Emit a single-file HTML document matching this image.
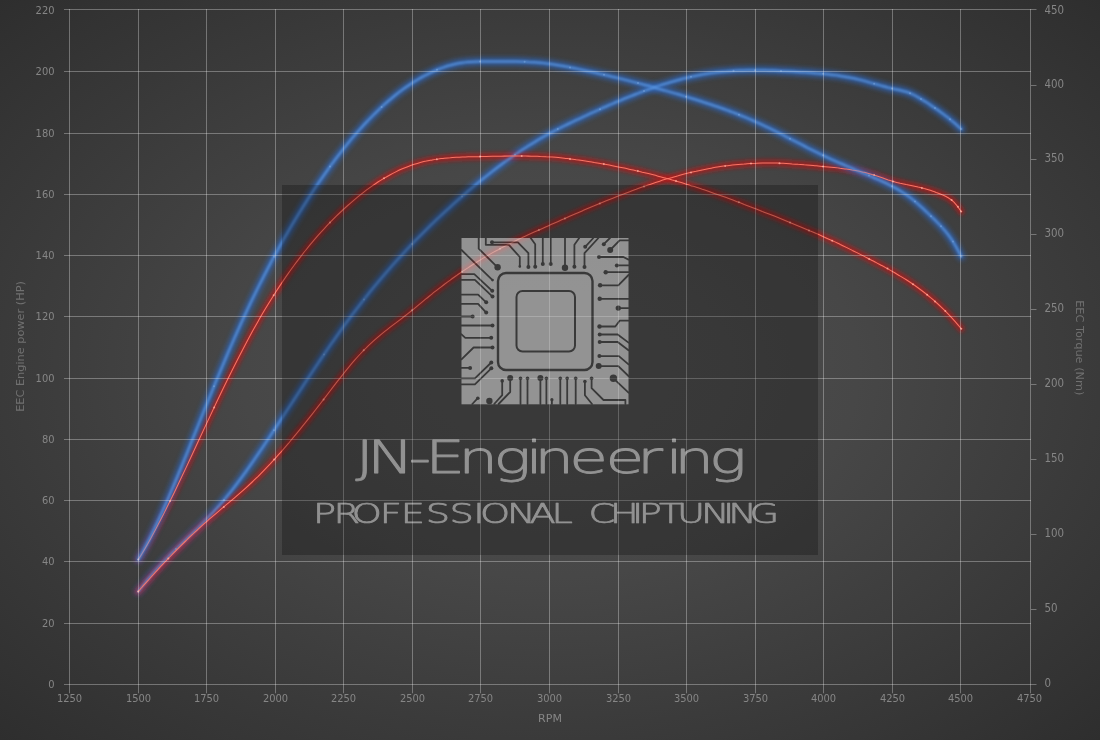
<!DOCTYPE html>
<html lang="en"><head><meta charset="utf-8"><title>JN-Engineering Professional Chiptuning - Dyno chart</title>
<style>html,body{margin:0;padding:0;background:#333;overflow:hidden}svg{display:block}text{font-family:"DejaVu Sans Condensed","DejaVu Sans","Liberation Sans",sans-serif}text.ti{font-family:"DejaVu Sans","Liberation Sans",sans-serif}text.wm{font-family:"DejaVu Sans Light","DejaVu Sans","Liberation Sans",sans-serif;font-weight:200}</style></head><body>
<svg width="1100" height="740" viewBox="0 0 1100 740">
<defs>
<radialGradient id="bg" cx="0.5" cy="0.5" r="0.75"><stop offset="0" stop-color="#4e4e4e"/><stop offset="0.22" stop-color="#4b4b4b"/><stop offset="0.373" stop-color="#474747"/><stop offset="0.487" stop-color="#424242"/><stop offset="0.667" stop-color="#3a3a3a"/><stop offset="0.943" stop-color="#2e2e2e"/><stop offset="1" stop-color="#2b2b2b"/></radialGradient>
<filter id="gb" x="-5%" y="-5%" width="110%" height="110%"><feGaussianBlur stdDeviation="2.6"/></filter>
<filter id="gr" x="-5%" y="-5%" width="110%" height="110%"><feGaussianBlur stdDeviation="2.3"/></filter>
<filter id="cb" x="-5%" y="-5%" width="110%" height="110%"><feGaussianBlur stdDeviation="0.85"/></filter>
<filter id="cr" x="-5%" y="-5%" width="110%" height="110%"><feGaussianBlur stdDeviation="0.4"/></filter>
</defs>
<rect width="1100" height="740" fill="url(#bg)"/>
<g font-size="11" fill="#868686">
<g text-anchor="end">
<text x="54.5" y="688.0">0</text>
<text x="54.5" y="627.0">20</text>
<text x="54.5" y="565.0">40</text>
<text x="54.5" y="504.0">60</text>
<text x="54.5" y="443.0">80</text>
<text x="54.5" y="382.0">100</text>
<text x="54.5" y="320.0">120</text>
<text x="54.5" y="259.0">140</text>
<text x="54.5" y="198.0">160</text>
<text x="54.5" y="137.0">180</text>
<text x="54.5" y="75.0">200</text>
<text x="54.5" y="13.6">220</text>
</g><g text-anchor="start">
<text x="1044.5" y="687.1" font-size="11.4">0</text>
<text x="1044.5" y="612.1" font-size="11.4">50</text>
<text x="1044.5" y="537.1" font-size="11.4">100</text>
<text x="1044.5" y="462.1" font-size="11.4">150</text>
<text x="1044.5" y="387.1" font-size="11.4">200</text>
<text x="1044.5" y="312.1" font-size="11.4">250</text>
<text x="1044.5" y="237.1" font-size="11.4">300</text>
<text x="1044.5" y="162.1" font-size="11.4">350</text>
<text x="1044.5" y="88.1" font-size="11.4">400</text>
<text x="1044.5" y="13.9" font-size="11.4">450</text>
</g><g text-anchor="middle">
<text x="69.5" y="702">1250</text>
<text x="138.5" y="702">1500</text>
<text x="206.5" y="702">1750</text>
<text x="275.5" y="702">2000</text>
<text x="343.5" y="702">2250</text>
<text x="412.5" y="702">2500</text>
<text x="480.5" y="702">2750</text>
<text x="549.5" y="702">3000</text>
<text x="618.5" y="702">3250</text>
<text x="686.5" y="702">3500</text>
<text x="755.5" y="702">3750</text>
<text x="823.5" y="702">4000</text>
<text x="892.5" y="702">4250</text>
<text x="960.5" y="702">4500</text>
<text x="1029.5" y="702">4750</text>
<text class="ti" x="550" y="722">RPM</text>
</g>
<g text-anchor="middle" fill="#707070" font-size="11.3">
<text class="ti" transform="translate(23.7 346.5) rotate(-90)">EEC Engine power (HP)</text>
<text class="ti" transform="translate(1075.7 347.8) rotate(90)">EEC Torque (Nm)</text>
</g></g>
<defs>
<path id="bp" d="M138.2 591.6C139.2 590.3 142.2 586.3 144.2 583.8C146.2 581.3 148.2 578.9 150.2 576.5C152.2 574.1 154.2 571.8 156.2 569.6C158.2 567.4 160.2 565.2 162.2 563.1C164.2 561.0 166.2 558.9 168.2 556.9C170.2 554.8 172.2 552.8 174.2 550.8C176.2 548.9 178.2 546.9 180.2 545.0C182.2 543.0 184.2 541.1 186.2 539.2C188.2 537.3 190.2 535.3 192.2 533.4C194.2 531.5 196.2 529.5 198.2 527.6C200.2 525.6 202.2 523.6 204.2 521.6C206.2 519.6 208.2 517.5 210.2 515.4C212.2 513.3 214.2 511.2 216.2 508.9C218.2 506.7 220.2 504.5 222.2 502.1C224.2 499.8 226.2 497.4 228.2 494.9C230.2 492.5 232.2 489.9 234.2 487.3C236.2 484.7 238.2 482.1 240.2 479.4C242.2 476.7 244.2 473.9 246.2 471.1C248.2 468.3 250.2 465.5 252.2 462.6C254.2 459.7 256.2 456.8 258.2 453.9C260.2 450.9 262.2 448.0 264.2 445.0C266.2 442.0 268.2 439.0 270.2 436.0C272.2 432.9 274.2 429.9 276.2 426.9C278.2 423.8 280.2 420.8 282.2 417.7C284.2 414.7 286.2 411.6 288.2 408.5C290.2 405.5 292.2 402.4 294.2 399.4C296.2 396.3 298.2 393.2 300.2 390.2C302.2 387.1 304.2 384.1 306.2 381.0C308.2 378.0 310.2 375.0 312.2 372.0C314.2 369.0 316.2 366.0 318.2 363.0C320.2 360.0 322.2 357.0 324.2 354.1C326.2 351.2 328.2 348.2 330.2 345.3C332.2 342.5 334.2 339.6 336.2 336.8C338.2 333.9 340.2 331.1 342.2 328.3C344.2 325.6 346.2 322.8 348.2 320.1C350.2 317.4 352.2 314.7 354.2 312.1C356.2 309.4 358.2 306.8 360.2 304.3C362.2 301.7 364.2 299.1 366.2 296.6C368.2 294.1 370.2 291.6 372.2 289.2C374.2 286.7 376.2 284.3 378.2 281.9C380.2 279.5 382.2 277.2 384.2 274.8C386.2 272.5 388.2 270.2 390.2 267.9C392.2 265.6 394.2 263.4 396.2 261.2C398.2 258.9 400.2 256.7 402.2 254.6C404.2 252.4 406.2 250.2 408.2 248.1C410.2 246.0 412.2 243.9 414.2 241.8C416.2 239.8 418.2 237.7 420.2 235.7C422.2 233.7 424.2 231.7 426.2 229.7C428.2 227.7 430.2 225.7 432.2 223.8C434.2 221.9 436.2 219.9 438.2 218.1C440.2 216.2 442.2 214.3 444.2 212.4C446.2 210.6 448.2 208.7 450.2 206.9C452.2 205.1 454.2 203.3 456.2 201.5C458.2 199.8 460.2 198.0 462.2 196.2C464.2 194.5 466.2 192.8 468.2 191.1C470.2 189.4 472.2 187.7 474.2 186.0C476.2 184.3 478.2 182.7 480.2 181.0C482.2 179.4 484.2 177.8 486.2 176.2C488.2 174.6 490.2 173.0 492.2 171.5C494.2 169.9 496.2 168.4 498.2 166.9C500.2 165.4 502.2 163.9 504.2 162.4C506.2 161.0 508.2 159.5 510.2 158.1C512.2 156.7 514.2 155.3 516.2 153.9C518.2 152.6 520.2 151.2 522.2 149.9C524.2 148.6 526.2 147.3 528.2 146.0C530.2 144.7 532.2 143.5 534.2 142.3C536.2 141.0 538.2 139.8 540.2 138.7C542.2 137.5 544.2 136.3 546.2 135.2C548.2 134.1 550.2 133.0 552.2 132.0C554.2 130.9 556.2 129.9 558.2 128.8C560.2 127.8 562.2 126.8 564.2 125.9C566.2 124.9 568.2 123.9 570.2 123.0C572.2 122.0 574.2 121.1 576.2 120.1C578.2 119.2 580.2 118.3 582.2 117.3C584.2 116.4 586.2 115.5 588.2 114.6C590.2 113.7 592.2 112.7 594.2 111.8C596.2 110.9 598.2 110.0 600.2 109.1C602.2 108.2 604.2 107.3 606.2 106.5C608.2 105.6 610.2 104.7 612.2 103.9C614.2 103.0 616.2 102.1 618.2 101.3C620.2 100.5 622.2 99.6 624.2 98.8C626.2 98.0 628.2 97.2 630.2 96.4C632.2 95.6 634.2 94.8 636.2 94.0C638.2 93.2 640.2 92.5 642.2 91.7C644.2 91.0 646.2 90.2 648.2 89.5C650.2 88.8 652.2 88.1 654.2 87.4C656.2 86.7 658.2 86.1 660.2 85.4C662.2 84.7 664.2 84.1 666.2 83.5C668.2 82.9 670.2 82.3 672.2 81.7C674.2 81.1 676.2 80.5 678.2 80.0C680.2 79.5 682.2 78.9 684.2 78.4C686.2 77.9 688.2 77.5 690.2 77.0C692.2 76.6 694.2 76.1 696.2 75.7C698.2 75.3 700.2 74.9 702.2 74.5C704.2 74.2 706.2 73.8 708.2 73.5C710.2 73.2 712.2 72.9 714.2 72.7C716.2 72.4 718.2 72.2 720.2 71.9C722.2 71.7 724.2 71.5 726.2 71.4C728.2 71.2 730.2 71.0 732.2 70.9C734.2 70.8 736.2 70.7 738.2 70.6C740.2 70.5 742.2 70.4 744.2 70.4C746.2 70.3 748.2 70.3 750.2 70.2C752.2 70.2 754.2 70.2 756.2 70.2C758.2 70.2 760.2 70.3 762.2 70.3C764.2 70.3 766.2 70.4 768.2 70.4C770.2 70.5 772.2 70.5 774.2 70.6C776.2 70.7 778.2 70.8 780.2 70.9C782.2 71.0 784.2 71.1 786.2 71.2C788.2 71.3 790.2 71.4 792.2 71.5C794.2 71.6 796.2 71.8 798.2 71.9C800.2 72.0 802.2 72.1 804.2 72.3C806.2 72.4 808.2 72.6 810.2 72.7C812.2 72.9 814.2 73.0 816.2 73.2C818.2 73.3 820.2 73.5 822.2 73.7C824.2 73.9 826.2 74.1 828.2 74.3C830.2 74.6 832.2 74.8 834.2 75.1C836.2 75.3 838.2 75.6 840.2 75.9C842.2 76.2 844.2 76.6 846.2 76.9C848.2 77.3 850.2 77.6 852.2 78.1C854.2 78.5 856.2 78.9 858.2 79.4C860.2 79.9 862.2 80.4 864.2 80.9C866.2 81.4 868.2 82.0 870.2 82.6C872.2 83.1 874.2 83.7 876.2 84.3C878.2 84.9 880.2 85.4 882.2 86.0C884.2 86.5 886.2 87.1 888.2 87.6C890.2 88.1 892.2 88.5 894.2 89.0C896.2 89.4 898.2 89.8 900.2 90.2C902.2 90.7 904.2 91.2 906.2 91.8C908.2 92.5 910.2 93.2 912.2 94.1C914.2 95.0 916.2 96.1 918.2 97.3C920.2 98.4 922.2 99.6 924.2 100.9C926.2 102.1 928.2 103.4 930.2 104.8C932.2 106.1 934.2 107.5 936.2 108.9C938.2 110.3 940.2 111.7 942.2 113.2C944.2 114.7 946.2 116.2 948.2 117.8C950.2 119.4 952.0 120.8 954.2 122.7C956.4 124.6 960.1 128.0 961.3 129.1" fill="none"/>
<path id="rp" d="M138.2 591.6C139.2 590.5 142.2 587.0 144.2 584.7C146.2 582.5 148.2 580.2 150.2 578.0C152.2 575.8 154.2 573.6 156.2 571.4C158.2 569.2 160.2 567.1 162.2 564.9C164.2 562.8 166.2 560.7 168.2 558.6C170.2 556.5 172.2 554.5 174.2 552.4C176.2 550.4 178.2 548.4 180.2 546.4C182.2 544.4 184.2 542.4 186.2 540.5C188.2 538.5 190.2 536.6 192.2 534.7C194.2 532.8 196.2 531.0 198.2 529.1C200.2 527.3 202.2 525.5 204.2 523.7C206.2 521.9 208.2 520.2 210.2 518.4C212.2 516.7 214.2 515.0 216.2 513.3C218.2 511.6 220.2 509.9 222.2 508.2C224.2 506.5 226.2 504.9 228.2 503.2C230.2 501.5 232.2 499.8 234.2 498.1C236.2 496.4 238.2 494.7 240.2 492.9C242.2 491.2 244.2 489.4 246.2 487.6C248.2 485.8 250.2 483.9 252.2 482.0C254.2 480.2 256.2 478.2 258.2 476.3C260.2 474.3 262.2 472.3 264.2 470.2C266.2 468.1 268.2 466.0 270.2 463.9C272.2 461.7 274.2 459.5 276.2 457.3C278.2 455.1 280.2 452.8 282.2 450.6C284.2 448.3 286.2 445.9 288.2 443.6C290.2 441.2 292.2 438.9 294.2 436.4C296.2 434.0 298.2 431.6 300.2 429.1C302.2 426.7 304.2 424.2 306.2 421.7C308.2 419.2 310.2 416.6 312.2 414.1C314.2 411.5 316.2 409.0 318.2 406.4C320.2 403.8 322.2 401.2 324.2 398.6C326.2 396.0 328.2 393.4 330.2 390.8C332.2 388.1 334.2 385.5 336.2 382.9C338.2 380.4 340.2 377.8 342.2 375.3C344.2 372.7 346.2 370.2 348.2 367.8C350.2 365.4 352.2 363.0 354.2 360.7C356.2 358.4 358.2 356.1 360.2 354.0C362.2 351.8 364.2 349.7 366.2 347.8C368.2 345.8 370.2 343.9 372.2 342.1C374.2 340.3 376.2 338.6 378.2 336.9C380.2 335.2 382.2 333.5 384.2 331.9C386.2 330.3 388.2 328.8 390.2 327.2C392.2 325.7 394.2 324.2 396.2 322.7C398.2 321.1 400.2 319.6 402.2 318.1C404.2 316.5 406.2 315.0 408.2 313.4C410.2 311.8 412.2 310.2 414.2 308.6C416.2 306.9 418.2 305.3 420.2 303.6C422.2 302.0 424.2 300.3 426.2 298.7C428.2 297.1 430.2 295.4 432.2 293.8C434.2 292.2 436.2 290.7 438.2 289.1C440.2 287.6 442.2 286.0 444.2 284.5C446.2 283.0 448.2 281.5 450.2 280.1C452.2 278.6 454.2 277.2 456.2 275.8C458.2 274.3 460.2 273.0 462.2 271.6C464.2 270.2 466.2 268.9 468.2 267.6C470.2 266.2 472.2 265.0 474.2 263.7C476.2 262.4 478.2 261.2 480.2 260.0C482.2 258.7 484.2 257.5 486.2 256.4C488.2 255.2 490.2 254.1 492.2 252.9C494.2 251.8 496.2 250.7 498.2 249.7C500.2 248.6 502.2 247.5 504.2 246.5C506.2 245.5 508.2 244.5 510.2 243.5C512.2 242.5 514.2 241.5 516.2 240.5C518.2 239.5 520.2 238.6 522.2 237.6C524.2 236.7 526.2 235.8 528.2 234.8C530.2 233.9 532.2 233.0 534.2 232.1C536.2 231.2 538.2 230.3 540.2 229.4C542.2 228.5 544.2 227.6 546.2 226.7C548.2 225.8 550.2 225.0 552.2 224.1C554.2 223.2 556.2 222.3 558.2 221.4C560.2 220.5 562.2 219.6 564.2 218.8C566.2 217.9 568.2 217.0 570.2 216.1C572.2 215.2 574.2 214.4 576.2 213.5C578.2 212.6 580.2 211.8 582.2 210.9C584.2 210.0 586.2 209.2 588.2 208.3C590.2 207.5 592.2 206.6 594.2 205.8C596.2 204.9 598.2 204.1 600.2 203.3C602.2 202.4 604.2 201.6 606.2 200.8C608.2 200.0 610.2 199.2 612.2 198.4C614.2 197.6 616.2 196.8 618.2 196.0C620.2 195.2 622.2 194.4 624.2 193.7C626.2 192.9 628.2 192.1 630.2 191.4C632.2 190.6 634.2 189.9 636.2 189.2C638.2 188.4 640.2 187.7 642.2 187.0C644.2 186.3 646.2 185.6 648.2 184.9C650.2 184.3 652.2 183.6 654.2 182.9C656.2 182.3 658.2 181.6 660.2 181.0C662.2 180.3 664.2 179.7 666.2 179.1C668.2 178.5 670.2 177.9 672.2 177.4C674.2 176.8 676.2 176.2 678.2 175.7C680.2 175.1 682.2 174.6 684.2 174.1C686.2 173.6 688.2 173.1 690.2 172.6C692.2 172.1 694.2 171.6 696.2 171.2C698.2 170.7 700.2 170.3 702.2 169.9C704.2 169.5 706.2 169.1 708.2 168.7C710.2 168.3 712.2 168.0 714.2 167.6C716.2 167.3 718.2 166.9 720.2 166.6C722.2 166.3 724.2 166.0 726.2 165.8C728.2 165.5 730.2 165.3 732.2 165.0C734.2 164.8 736.2 164.6 738.2 164.4C740.2 164.2 742.2 164.0 744.2 163.9C746.2 163.7 748.2 163.6 750.2 163.4C752.2 163.3 754.2 163.2 756.2 163.2C758.2 163.1 760.2 163.0 762.2 163.0C764.2 163.0 766.2 163.0 768.2 163.0C770.2 163.0 772.2 163.0 774.2 163.0C776.2 163.1 778.2 163.1 780.2 163.2C782.2 163.3 784.2 163.4 786.2 163.5C788.2 163.6 790.2 163.7 792.2 163.9C794.2 164.0 796.2 164.1 798.2 164.3C800.2 164.4 802.2 164.6 804.2 164.8C806.2 164.9 808.2 165.1 810.2 165.3C812.2 165.5 814.2 165.6 816.2 165.8C818.2 166.0 820.2 166.2 822.2 166.4C824.2 166.6 826.2 166.8 828.2 167.0C830.2 167.2 832.2 167.4 834.2 167.6C836.2 167.8 838.2 168.0 840.2 168.3C842.2 168.5 844.2 168.8 846.2 169.0C848.2 169.3 850.2 169.6 852.2 170.0C854.2 170.3 856.2 170.6 858.2 171.0C860.2 171.4 862.2 171.9 864.2 172.3C866.2 172.8 868.2 173.3 870.2 173.9C872.2 174.5 874.2 175.1 876.2 175.7C878.2 176.4 880.2 177.1 882.2 177.8C884.2 178.5 886.2 179.2 888.2 179.9C890.2 180.5 892.2 181.2 894.2 181.7C896.2 182.3 898.2 182.8 900.2 183.3C902.2 183.7 904.2 184.1 906.2 184.6C908.2 185.0 910.2 185.4 912.2 185.8C914.2 186.2 916.2 186.6 918.2 187.1C920.2 187.5 922.2 188.0 924.2 188.6C926.2 189.1 928.2 189.7 930.2 190.3C932.2 191.0 934.2 191.6 936.2 192.4C938.2 193.1 940.2 193.8 942.2 194.7C944.2 195.5 946.2 196.4 948.2 197.7C950.2 199.0 952.0 200.1 954.2 202.4C956.4 204.7 960.0 209.9 961.2 211.5" fill="none"/>
<path id="rt" d="M138.3 559.6C139.3 558.0 142.3 553.1 144.3 549.7C146.3 546.3 148.3 542.8 150.3 539.2C152.3 535.6 154.3 531.9 156.3 528.1C158.3 524.3 160.3 520.5 162.3 516.6C164.3 512.6 166.3 508.7 168.3 504.6C170.3 500.6 172.3 496.5 174.3 492.4C176.3 488.2 178.3 484.0 180.3 479.8C182.3 475.6 184.3 471.4 186.3 467.1C188.3 462.8 190.3 458.5 192.3 454.3C194.3 450.0 196.3 445.6 198.3 441.3C200.3 437.0 202.3 432.7 204.3 428.4C206.3 424.1 208.3 419.8 210.3 415.6C212.3 411.3 214.3 407.0 216.3 402.8C218.3 398.6 220.3 394.5 222.3 390.3C224.3 386.2 226.3 382.1 228.3 378.0C230.3 374.0 232.3 369.9 234.3 366.0C236.3 362.0 238.3 358.1 240.3 354.2C242.3 350.3 244.3 346.5 246.3 342.7C248.3 339.0 250.3 335.3 252.3 331.6C254.3 328.0 256.3 324.4 258.3 320.9C260.3 317.4 262.3 314.0 264.3 310.6C266.3 307.2 268.3 303.9 270.3 300.7C272.3 297.5 274.3 294.3 276.3 291.2C278.3 288.1 280.3 285.1 282.3 282.1C284.3 279.1 286.3 276.2 288.3 273.4C290.3 270.5 292.3 267.8 294.3 265.0C296.3 262.3 298.3 259.7 300.3 257.1C302.3 254.5 304.3 251.9 306.3 249.5C308.3 247.0 310.3 244.5 312.3 242.2C314.3 239.8 316.3 237.5 318.3 235.2C320.3 232.9 322.3 230.7 324.3 228.6C326.3 226.4 328.3 224.3 330.3 222.2C332.3 220.2 334.3 218.2 336.3 216.2C338.3 214.2 340.3 212.3 342.3 210.5C344.3 208.6 346.3 206.8 348.3 205.0C350.3 203.2 352.3 201.5 354.3 199.8C356.3 198.1 358.3 196.4 360.3 194.9C362.3 193.3 364.3 191.7 366.3 190.2C368.3 188.7 370.3 187.3 372.3 185.9C374.3 184.5 376.3 183.1 378.3 181.8C380.3 180.5 382.3 179.3 384.3 178.1C386.3 176.9 388.3 175.8 390.3 174.7C392.3 173.6 394.3 172.6 396.3 171.6C398.3 170.6 400.3 169.7 402.3 168.8C404.3 168.0 406.3 167.2 408.3 166.4C410.3 165.6 412.3 164.9 414.3 164.3C416.3 163.7 418.3 163.1 420.3 162.5C422.3 162.0 424.3 161.5 426.3 161.1C428.3 160.6 430.3 160.3 432.3 159.9C434.3 159.5 436.3 159.2 438.3 159.0C440.3 158.7 442.3 158.5 444.3 158.2C446.3 158.0 448.3 157.8 450.3 157.7C452.3 157.5 454.3 157.4 456.3 157.3C458.3 157.2 460.3 157.1 462.3 157.0C464.3 156.9 466.3 156.9 468.3 156.8C470.3 156.8 472.3 156.7 474.3 156.7C476.3 156.6 478.3 156.6 480.3 156.6C482.3 156.5 484.3 156.5 486.3 156.4C488.3 156.4 490.3 156.4 492.3 156.3C494.3 156.3 496.3 156.2 498.3 156.2C500.3 156.2 502.3 156.1 504.3 156.1C506.3 156.1 508.3 156.1 510.3 156.0C512.3 156.0 514.3 156.0 516.3 156.0C518.3 156.0 520.3 156.0 522.3 156.0C524.3 156.0 526.3 156.1 528.3 156.1C530.3 156.1 532.3 156.2 534.3 156.2C536.3 156.3 538.3 156.4 540.3 156.5C542.3 156.5 544.3 156.6 546.3 156.8C548.3 156.9 550.3 157.0 552.3 157.1C554.3 157.3 556.3 157.5 558.3 157.6C560.3 157.8 562.3 158.0 564.3 158.2C566.3 158.4 568.3 158.7 570.3 158.9C572.3 159.1 574.3 159.4 576.3 159.7C578.3 159.9 580.3 160.2 582.3 160.5C584.3 160.8 586.3 161.1 588.3 161.4C590.3 161.7 592.3 162.0 594.3 162.4C596.3 162.7 598.3 163.1 600.3 163.4C602.3 163.8 604.3 164.1 606.3 164.5C608.3 164.9 610.3 165.3 612.3 165.7C614.3 166.1 616.3 166.5 618.3 166.9C620.3 167.3 622.3 167.7 624.3 168.1C626.3 168.5 628.3 169.0 630.3 169.4C632.3 169.9 634.3 170.3 636.3 170.8C638.3 171.2 640.3 171.7 642.3 172.2C644.3 172.6 646.3 173.1 648.3 173.6C650.3 174.1 652.3 174.6 654.3 175.1C656.3 175.6 658.3 176.2 660.3 176.7C662.3 177.2 664.3 177.7 666.3 178.3C668.3 178.8 670.3 179.4 672.3 180.0C674.3 180.5 676.3 181.1 678.3 181.7C680.3 182.3 682.3 182.9 684.3 183.5C686.3 184.1 688.3 184.8 690.3 185.4C692.3 186.0 694.3 186.7 696.3 187.3C698.3 187.9 700.3 188.6 702.3 189.3C704.3 189.9 706.3 190.6 708.3 191.3C710.3 192.0 712.3 192.7 714.3 193.4C716.3 194.1 718.3 194.8 720.3 195.5C722.3 196.2 724.3 196.9 726.3 197.6C728.3 198.4 730.3 199.1 732.3 199.8C734.3 200.6 736.3 201.3 738.3 202.1C740.3 202.8 742.3 203.6 744.3 204.4C746.3 205.1 748.3 205.9 750.3 206.7C752.3 207.4 754.3 208.2 756.3 209.0C758.3 209.8 760.3 210.6 762.3 211.4C764.3 212.1 766.3 212.9 768.3 213.7C770.3 214.5 772.3 215.3 774.3 216.1C776.3 217.0 778.3 217.8 780.3 218.6C782.3 219.4 784.3 220.2 786.3 221.0C788.3 221.8 790.3 222.7 792.3 223.5C794.3 224.3 796.3 225.1 798.3 225.9C800.3 226.8 802.3 227.6 804.3 228.4C806.3 229.3 808.3 230.1 810.3 231.0C812.3 231.8 814.3 232.7 816.3 233.6C818.3 234.4 820.3 235.3 822.3 236.2C824.3 237.1 826.3 238.0 828.3 238.9C830.3 239.8 832.3 240.7 834.3 241.6C836.3 242.6 838.3 243.5 840.3 244.5C842.3 245.4 844.3 246.4 846.3 247.4C848.3 248.4 850.3 249.4 852.3 250.4C854.3 251.3 856.3 252.4 858.3 253.4C860.3 254.4 862.3 255.4 864.3 256.4C866.3 257.4 868.3 258.5 870.3 259.5C872.3 260.5 874.3 261.6 876.3 262.6C878.3 263.7 880.3 264.7 882.3 265.8C884.3 266.9 886.3 268.0 888.3 269.1C890.3 270.2 892.3 271.3 894.3 272.5C896.3 273.7 898.3 274.8 900.3 276.1C902.3 277.3 904.3 278.5 906.3 279.8C908.3 281.1 910.3 282.4 912.3 283.8C914.3 285.1 916.3 286.5 918.3 288.0C920.3 289.5 922.3 291.0 924.3 292.5C926.3 294.1 928.3 295.7 930.3 297.4C932.3 299.0 934.3 300.7 936.3 302.5C938.3 304.3 940.3 306.2 942.3 308.1C944.3 310.0 946.3 312.0 948.3 314.1C950.3 316.2 952.1 318.1 954.3 320.6C956.5 323.0 960.1 327.4 961.3 328.8" fill="none"/>
<path id="bt" d="M138.3 559.6C139.3 557.8 142.3 552.6 144.3 548.8C146.3 545.1 148.3 541.2 150.3 537.2C152.3 533.2 154.3 529.0 156.3 524.8C158.3 520.5 160.3 516.2 162.3 511.7C164.3 507.3 166.3 502.7 168.3 498.1C170.3 493.5 172.3 488.7 174.3 484.0C176.3 479.2 178.3 474.4 180.3 469.5C182.3 464.7 184.3 459.7 186.3 454.8C188.3 449.9 190.3 444.9 192.3 439.9C194.3 434.9 196.3 429.9 198.3 425.0C200.3 420.0 202.3 415.0 204.3 410.0C206.3 405.1 208.3 400.2 210.3 395.3C212.3 390.4 214.3 385.5 216.3 380.7C218.3 375.8 220.3 371.0 222.3 366.3C224.3 361.6 226.3 356.9 228.3 352.2C230.3 347.6 232.3 343.0 234.3 338.4C236.3 333.9 238.3 329.4 240.3 325.0C242.3 320.6 244.3 316.2 246.3 312.0C248.3 307.7 250.3 303.5 252.3 299.3C254.3 295.2 256.3 291.1 258.3 287.1C260.3 283.1 262.3 279.1 264.3 275.2C266.3 271.3 268.3 267.5 270.3 263.7C272.3 259.9 274.3 256.2 276.3 252.6C278.3 248.9 280.3 245.3 282.3 241.7C284.3 238.2 286.3 234.7 288.3 231.3C290.3 227.8 292.3 224.4 294.3 221.1C296.3 217.7 298.3 214.4 300.3 211.2C302.3 207.9 304.3 204.7 306.3 201.6C308.3 198.4 310.3 195.3 312.3 192.3C314.3 189.2 316.3 186.2 318.3 183.3C320.3 180.4 322.3 177.5 324.3 174.6C326.3 171.8 328.3 169.0 330.3 166.2C332.3 163.5 334.3 160.8 336.3 158.1C338.3 155.5 340.3 152.9 342.3 150.3C344.3 147.8 346.3 145.3 348.3 142.9C350.3 140.4 352.3 138.0 354.3 135.7C356.3 133.4 358.3 131.1 360.3 128.9C362.3 126.6 364.3 124.4 366.3 122.3C368.3 120.2 370.3 118.1 372.3 116.1C374.3 114.1 376.3 112.1 378.3 110.2C380.3 108.3 382.3 106.4 384.3 104.6C386.3 102.8 388.3 101.0 390.3 99.4C392.3 97.7 394.3 96.0 396.3 94.4C398.3 92.8 400.3 91.3 402.3 89.8C404.3 88.3 406.3 86.9 408.3 85.6C410.3 84.2 412.3 82.9 414.3 81.6C416.3 80.4 418.3 79.2 420.3 78.0C422.3 76.9 424.3 75.8 426.3 74.8C428.3 73.7 430.3 72.8 432.3 71.8C434.3 70.9 436.3 70.1 438.3 69.3C440.3 68.5 442.3 67.8 444.3 67.1C446.3 66.4 448.3 65.8 450.3 65.3C452.3 64.7 454.3 64.2 456.3 63.8C458.3 63.4 460.3 63.1 462.3 62.8C464.3 62.5 466.3 62.3 468.3 62.1C470.3 61.9 472.3 61.8 474.3 61.7C476.3 61.6 478.3 61.5 480.3 61.4C482.3 61.4 484.3 61.4 486.3 61.4C488.3 61.4 490.3 61.4 492.3 61.4C494.3 61.4 496.3 61.5 498.3 61.5C500.3 61.5 502.3 61.5 504.3 61.5C506.3 61.6 508.3 61.6 510.3 61.6C512.3 61.6 514.3 61.6 516.3 61.6C518.3 61.7 520.3 61.7 522.3 61.7C524.3 61.8 526.3 61.9 528.3 62.0C530.3 62.0 532.3 62.2 534.3 62.3C536.3 62.4 538.3 62.6 540.3 62.8C542.3 63.0 544.3 63.2 546.3 63.5C548.3 63.7 550.3 64.0 552.3 64.3C554.3 64.6 556.3 64.9 558.3 65.2C560.3 65.6 562.3 65.9 564.3 66.3C566.3 66.7 568.3 67.0 570.3 67.4C572.3 67.8 574.3 68.2 576.3 68.6C578.3 69.1 580.3 69.5 582.3 69.9C584.3 70.3 586.3 70.7 588.3 71.2C590.3 71.6 592.3 72.1 594.3 72.5C596.3 73.0 598.3 73.4 600.3 73.9C602.3 74.3 604.3 74.8 606.3 75.2C608.3 75.7 610.3 76.2 612.3 76.7C614.3 77.1 616.3 77.6 618.3 78.1C620.3 78.6 622.3 79.1 624.3 79.6C626.3 80.1 628.3 80.6 630.3 81.1C632.3 81.6 634.3 82.1 636.3 82.7C638.3 83.2 640.3 83.7 642.3 84.2C644.3 84.8 646.3 85.3 648.3 85.8C650.3 86.4 652.3 86.9 654.3 87.5C656.3 88.0 658.3 88.6 660.3 89.2C662.3 89.7 664.3 90.3 666.3 90.9C668.3 91.4 670.3 92.0 672.3 92.6C674.3 93.2 676.3 93.8 678.3 94.3C680.3 94.9 682.3 95.5 684.3 96.1C686.3 96.7 688.3 97.3 690.3 98.0C692.3 98.6 694.3 99.2 696.3 99.8C698.3 100.4 700.3 101.1 702.3 101.7C704.3 102.4 706.3 103.0 708.3 103.7C710.3 104.3 712.3 105.0 714.3 105.7C716.3 106.3 718.3 107.0 720.3 107.7C722.3 108.4 724.3 109.2 726.3 109.9C728.3 110.6 730.3 111.4 732.3 112.1C734.3 112.9 736.3 113.7 738.3 114.5C740.3 115.3 742.3 116.1 744.3 116.9C746.3 117.7 748.3 118.6 750.3 119.4C752.3 120.3 754.3 121.2 756.3 122.1C758.3 123.0 760.3 123.9 762.3 124.9C764.3 125.8 766.3 126.8 768.3 127.7C770.3 128.7 772.3 129.7 774.3 130.7C776.3 131.7 778.3 132.7 780.3 133.7C782.3 134.7 784.3 135.7 786.3 136.8C788.3 137.8 790.3 138.8 792.3 139.9C794.3 140.9 796.3 141.9 798.3 142.9C800.3 144.0 802.3 145.0 804.3 146.0C806.3 147.0 808.3 148.1 810.3 149.1C812.3 150.1 814.3 151.1 816.3 152.1C818.3 153.1 820.3 154.0 822.3 155.0C824.3 156.0 826.3 156.9 828.3 157.8C830.3 158.8 832.3 159.7 834.3 160.6C836.3 161.5 838.3 162.4 840.3 163.3C842.3 164.1 844.3 165.0 846.3 165.9C848.3 166.8 850.3 167.6 852.3 168.5C854.3 169.4 856.3 170.2 858.3 171.1C860.3 171.9 862.3 172.8 864.3 173.6C866.3 174.5 868.3 175.3 870.3 176.2C872.3 177.1 874.3 177.9 876.3 178.8C878.3 179.7 880.3 180.6 882.3 181.5C884.3 182.4 886.3 183.3 888.3 184.3C890.3 185.3 892.3 186.4 894.3 187.5C896.3 188.5 898.3 189.7 900.3 190.9C902.3 192.1 904.3 193.4 906.3 194.8C908.3 196.2 910.3 197.6 912.3 199.2C914.3 200.8 916.3 202.5 918.3 204.2C920.3 206.0 922.3 207.9 924.3 209.7C926.3 211.6 928.3 213.6 930.3 215.5C932.3 217.5 934.3 219.3 936.3 221.4C938.3 223.4 940.3 225.4 942.3 227.7C944.3 229.9 946.3 232.3 948.3 234.9C950.3 237.6 952.1 240.1 954.3 243.7C956.5 247.3 960.1 254.4 961.3 256.5" fill="none"/>
</defs>
<use href="#bp" stroke="#2f63b4" stroke-width="7.5" stroke-linecap="round" filter="url(#gb)" opacity="0.85"/>
<use href="#rp" stroke="#c01616" stroke-width="6.5" stroke-linecap="round" filter="url(#gr)" opacity="0.72"/>
<use href="#rt" stroke="#c01616" stroke-width="6.5" stroke-linecap="round" filter="url(#gr)" opacity="0.72"/>
<use href="#bt" stroke="#2f63b4" stroke-width="7.5" stroke-linecap="round" filter="url(#gb)" opacity="0.85"/>
<use href="#bp" stroke="#5c98e4" stroke-width="2" stroke-linecap="round" filter="url(#cb)" opacity="0.9"/>
<g fill="#a8ccf6" opacity="0.3"><circle cx="138.2" cy="591.6" r="1"/><circle cx="176.0" cy="549.1" r="1"/><circle cx="224.0" cy="500.0" r="1"/><circle cx="274.0" cy="430.2" r="1"/><circle cx="324.0" cy="354.4" r="1"/><circle cx="364.0" cy="299.4" r="1"/><circle cx="412.0" cy="244.1" r="1"/><circle cx="462.0" cy="196.4" r="1"/><circle cx="515.0" cy="154.8" r="1"/><circle cx="557.8" cy="129.1" r="1"/><circle cx="600.0" cy="109.2" r="1"/><circle cx="644.0" cy="91.1" r="1"/><circle cx="691.0" cy="76.8" r="1"/><circle cx="733.5" cy="70.8" r="1"/><circle cx="755.0" cy="70.2" r="1"/><circle cx="781.0" cy="70.9" r="1"/><circle cx="823.0" cy="73.8" r="1"/><circle cx="874.1" cy="83.7" r="1"/><circle cx="892.0" cy="88.5" r="1"/><circle cx="910.0" cy="93.2" r="1"/><circle cx="921.0" cy="98.9" r="1"/><circle cx="935.0" cy="108.1" r="1"/><circle cx="950.0" cy="119.2" r="1"/><circle cx="961.3" cy="129.1" r="1"/></g>
<use href="#rp" stroke="#ff7868" stroke-width="1.05" stroke-linecap="round" filter="url(#cr)" opacity="0.95"/>
<g fill="#ffb4a6" opacity="0.7"><circle cx="138.2" cy="591.6" r="1"/><circle cx="168.3" cy="558.5" r="1"/><circle cx="223.8" cy="506.9" r="1"/><circle cx="274.1" cy="459.6" r="1"/><circle cx="323.6" cy="399.4" r="1"/><circle cx="363.7" cy="350.3" r="1"/><circle cx="412.0" cy="310.3" r="1"/><circle cx="462.0" cy="271.7" r="1"/><circle cx="500.0" cy="248.7" r="1"/><circle cx="538.9" cy="230.0" r="1"/><circle cx="564.9" cy="218.5" r="1"/><circle cx="599.8" cy="203.4" r="1"/><circle cx="644.0" cy="186.4" r="1"/><circle cx="691.0" cy="172.4" r="1"/><circle cx="725.2" cy="165.9" r="1"/><circle cx="751.0" cy="163.4" r="1"/><circle cx="779.5" cy="163.2" r="1"/><circle cx="823.0" cy="166.5" r="1"/><circle cx="874.1" cy="175.1" r="1"/><circle cx="893.2" cy="181.4" r="1"/><circle cx="921.9" cy="188.0" r="1"/><circle cx="951.6" cy="200.1" r="1"/><circle cx="958.0" cy="206.8" r="1"/><circle cx="961.2" cy="211.5" r="1"/></g>
<use href="#rt" stroke="#ff7868" stroke-width="1.05" stroke-linecap="round" filter="url(#cr)" opacity="0.95"/>
<g fill="#ffb4a6" opacity="0.7"><circle cx="138.3" cy="559.6" r="1"/><circle cx="170.0" cy="501.2" r="1"/><circle cx="214.1" cy="407.5" r="1"/><circle cx="273.7" cy="295.3" r="1"/><circle cx="330.0" cy="222.6" r="1"/><circle cx="384.0" cy="178.3" r="1"/><circle cx="436.9" cy="159.2" r="1"/><circle cx="480.0" cy="156.6" r="1"/><circle cx="521.7" cy="156.0" r="1"/><circle cx="570.0" cy="158.9" r="1"/><circle cx="603.8" cy="164.0" r="1"/><circle cx="637.8" cy="171.1" r="1"/><circle cx="676.0" cy="181.0" r="1"/><circle cx="738.9" cy="202.3" r="1"/><circle cx="790.0" cy="222.5" r="1"/><circle cx="809.0" cy="230.4" r="1"/><circle cx="832.2" cy="240.7" r="1"/><circle cx="869.2" cy="258.9" r="1"/><circle cx="887.5" cy="268.6" r="1"/><circle cx="913.0" cy="284.3" r="1"/><circle cx="927.1" cy="294.7" r="1"/><circle cx="935.0" cy="301.4" r="1"/><circle cx="945.3" cy="311.1" r="1"/><circle cx="961.3" cy="328.8" r="1"/></g>
<use href="#bt" stroke="#5c98e4" stroke-width="2" stroke-linecap="round" filter="url(#cb)" opacity="0.9"/>
<g fill="#a8ccf6" opacity="0.3"><circle cx="138.3" cy="559.6" r="1"/><circle cx="214.0" cy="386.2" r="1"/><circle cx="274.0" cy="256.8" r="1"/><circle cx="330.0" cy="166.6" r="1"/><circle cx="381.6" cy="107.1" r="1"/><circle cx="437.0" cy="69.8" r="1"/><circle cx="480.0" cy="61.5" r="1"/><circle cx="524.6" cy="61.8" r="1"/><circle cx="570.0" cy="67.4" r="1"/><circle cx="604.0" cy="74.7" r="1"/><circle cx="638.0" cy="83.1" r="1"/><circle cx="686.0" cy="96.7" r="1"/><circle cx="739.0" cy="114.7" r="1"/><circle cx="790.0" cy="138.7" r="1"/><circle cx="823.0" cy="155.3" r="1"/><circle cx="869.0" cy="175.6" r="1"/><circle cx="892.0" cy="186.2" r="1"/><circle cx="915.0" cy="201.4" r="1"/><circle cx="931.0" cy="216.2" r="1"/><circle cx="941.0" cy="226.3" r="1"/><circle cx="953.0" cy="241.6" r="1"/><circle cx="961.3" cy="256.5" r="1"/></g>
<path d="M69.5 9V693.3M138.5 9V693.3M206.5 9V693.3M275.5 9V693.3M343.5 9V693.3M412.5 9V693.3M480.5 9V693.3M549.5 9V693.3M618.5 9V693.3M686.5 9V693.3M755.5 9V693.3M823.5 9V693.3M892.5 9V693.3M960.5 9V693.3M1030.5 9V693.3M64 684.5H1031M64 623.5H1031M64 561.5H1031M64 500.5H1031M64 439.5H1031M64 378.5H1031M64 316.5H1031M64 255.5H1031M64 194.5H1031M64 133.5H1031M64 71.5H1031M64 9.5H1031M1031 609.5h5.5M1031 534.5h5.5M1031 459.5h5.5M1031 384.5h5.5M1031 309.5h5.5M1031 234.5h5.5M1031 159.5h5.5M1031 85.5h5.5M1031 9.5h5.5M1031 684.5h5.5" fill="none" stroke="#fff" stroke-opacity="0.31" stroke-width="1"/>
<g id="watermark">
<rect x="282" y="185" width="536" height="370" fill="#000" fill-opacity="0.25"/>
<g transform="translate(461.5 238)" opacity="0.46">
<rect width="167" height="166.3" fill="#fdfdfd"/>
<g fill="none" stroke="#3b3b3b" stroke-width="1.8" stroke-linecap="round" stroke-linejoin="round">
<rect x="36.5" y="35" width="94.5" height="97" rx="8" stroke-width="2.4"/>
<rect x="55" y="53" width="58.5" height="60.5" rx="6" stroke-width="2"/>
<path d="M17.2 0V10.7L36.1 29.3M24.3 0V6.8H47.4L58.3 19V28.4M30.5 4.3H56.4L66.9 15.2V28.9M69.2 0L73.7 6.2V28.7M81.3 0V26.1M89.2 0V26.1M103.5 0V29.7M117.7 0L112.9 6.8V28.7M136.9 0L123 15.2V28.9M131.8 0L123.7 8.8M148.5 0L142.3 6.2M167 2.3H158.1L148.7 12M137.5 19H161.9L167 21.6M155.3 27.4H167M144.2 34.2H167M138.6 47.3H156.8L167 37M138.2 60.8H167M156.8 70.1H167M138 88.5H153.8L158.1 82.7H167M138.2 96.5H156.2L167 104.6M138.2 104H156.2L167 112.3M137.9 118.1H157.4L167 126.4M137.2 128.1H156.8L167 138M151.9 140.3L167 154.7M0 12L31 42.1M0 36.1H12.8L30.7 52.8M0 41.8H13.4L31 58.6M0 56.6H16.6L24.7 64.3M0 65.9H16.6L24.7 74.6M0 78.5H11.1M0 87.5H31M0 96.3L3.8 99.8H29.7M31 109.5H12.1L0 121.3M0 129.9H8.6M29.8 124.5L13.4 140.3H0M29.8 130.3L13.4 146.3H0M16.3 160.2L10.8 166M40.7 142.9V157.2L32.7 166M48.7 139.9V154L37.1 166M59 140.3V166M66 140.3V166M78.9 139.9V166M84.9 140.3V166M90.4 161.7V166M98.8 140.3V166M105.7 140.3V166M114.2 140.3V166M123.4 143.5V157.2L130.5 166M130.1 140.3V150.2L142 162H163.9V166"/>
</g>
<g fill="#3b3b3b"><circle cx="36.1" cy="29.3" r="3.2"/><circle cx="58.3" cy="28.4" r="1.3"/><circle cx="30.5" cy="4.3" r="2"/><circle cx="66.9" cy="28.9" r="2"/><circle cx="73.7" cy="28.7" r="2"/><circle cx="81.3" cy="26.1" r="2"/><circle cx="89.2" cy="26.1" r="2"/><circle cx="103.5" cy="29.7" r="3.2"/><circle cx="112.9" cy="28.7" r="2"/><circle cx="123" cy="28.9" r="2"/><circle cx="123.7" cy="8.8" r="2"/><circle cx="142.3" cy="6.2" r="2"/><circle cx="148.7" cy="12" r="3"/><circle cx="137.5" cy="19" r="2"/><circle cx="155.3" cy="27.4" r="2"/><circle cx="144.2" cy="34.2" r="2.2"/><circle cx="138.6" cy="47.3" r="2.2"/><circle cx="138.2" cy="60.8" r="2.2"/><circle cx="156.8" cy="70.1" r="2.7"/><circle cx="138" cy="88.5" r="2.2"/><circle cx="138.2" cy="96.5" r="2"/><circle cx="138.2" cy="104" r="2"/><circle cx="137.9" cy="118.1" r="2"/><circle cx="137.2" cy="128.1" r="3"/><circle cx="151.9" cy="140.3" r="3.7"/><circle cx="31" cy="42.1" r="1.3"/><circle cx="30.7" cy="52.8" r="2"/><circle cx="31" cy="58.6" r="2"/><circle cx="24.7" cy="64.3" r="2"/><circle cx="24.7" cy="74.6" r="2"/><circle cx="11.1" cy="78.5" r="2"/><circle cx="31" cy="87.5" r="2"/><circle cx="29.7" cy="99.8" r="2"/><circle cx="31" cy="109.5" r="2"/><circle cx="8.6" cy="129.9" r="2"/><circle cx="29.8" cy="124.5" r="2"/><circle cx="29.8" cy="130.3" r="2"/><circle cx="16.3" cy="160.2" r="1.8"/><circle cx="27.9" cy="163" r="3.2"/><circle cx="40.7" cy="142.9" r="1.8"/><circle cx="48.7" cy="139.9" r="3"/><circle cx="59" cy="140.3" r="1.8"/><circle cx="66" cy="140.3" r="1.8"/><circle cx="78.9" cy="139.9" r="3"/><circle cx="84.9" cy="140.3" r="1.8"/><circle cx="90.4" cy="161.7" r="1.6"/><circle cx="98.8" cy="140.3" r="1.8"/><circle cx="105.7" cy="140.3" r="1.8"/><circle cx="114.2" cy="140.3" r="1.8"/><circle cx="123.4" cy="143.5" r="1.8"/><circle cx="130.1" cy="140.3" r="1.8"/></g>
</g>
<g fill="#fdfdfd" stroke="#fdfdfd" stroke-linejoin="round" opacity="0.46">
<text class="wm" transform="scale(1.43 1)" x="248.6 256.57 285.66 297.34 320.42 345.1 367.48 373.57 398.04 423.43 445.38 465.45 471.47 495.8" y="473" font-size="44" stroke-width="0.8">JN-Engineering</text>
<text class="wm" transform="scale(1.4 1)" x="223.61 238.21 251.25 271.21 286.32 304.04 321.07 338.04 342.86 362.14 378.21 393.89 401.04 420.43 435.75 451.39 456.29 470.64 483.54 500.71 516.36 520.21 535.43" y="522.8" font-size="27.4" stroke-width="0.7">PROFESSIONAL CHIPTUNING</text>
</g>
</g>
</svg></body></html>
